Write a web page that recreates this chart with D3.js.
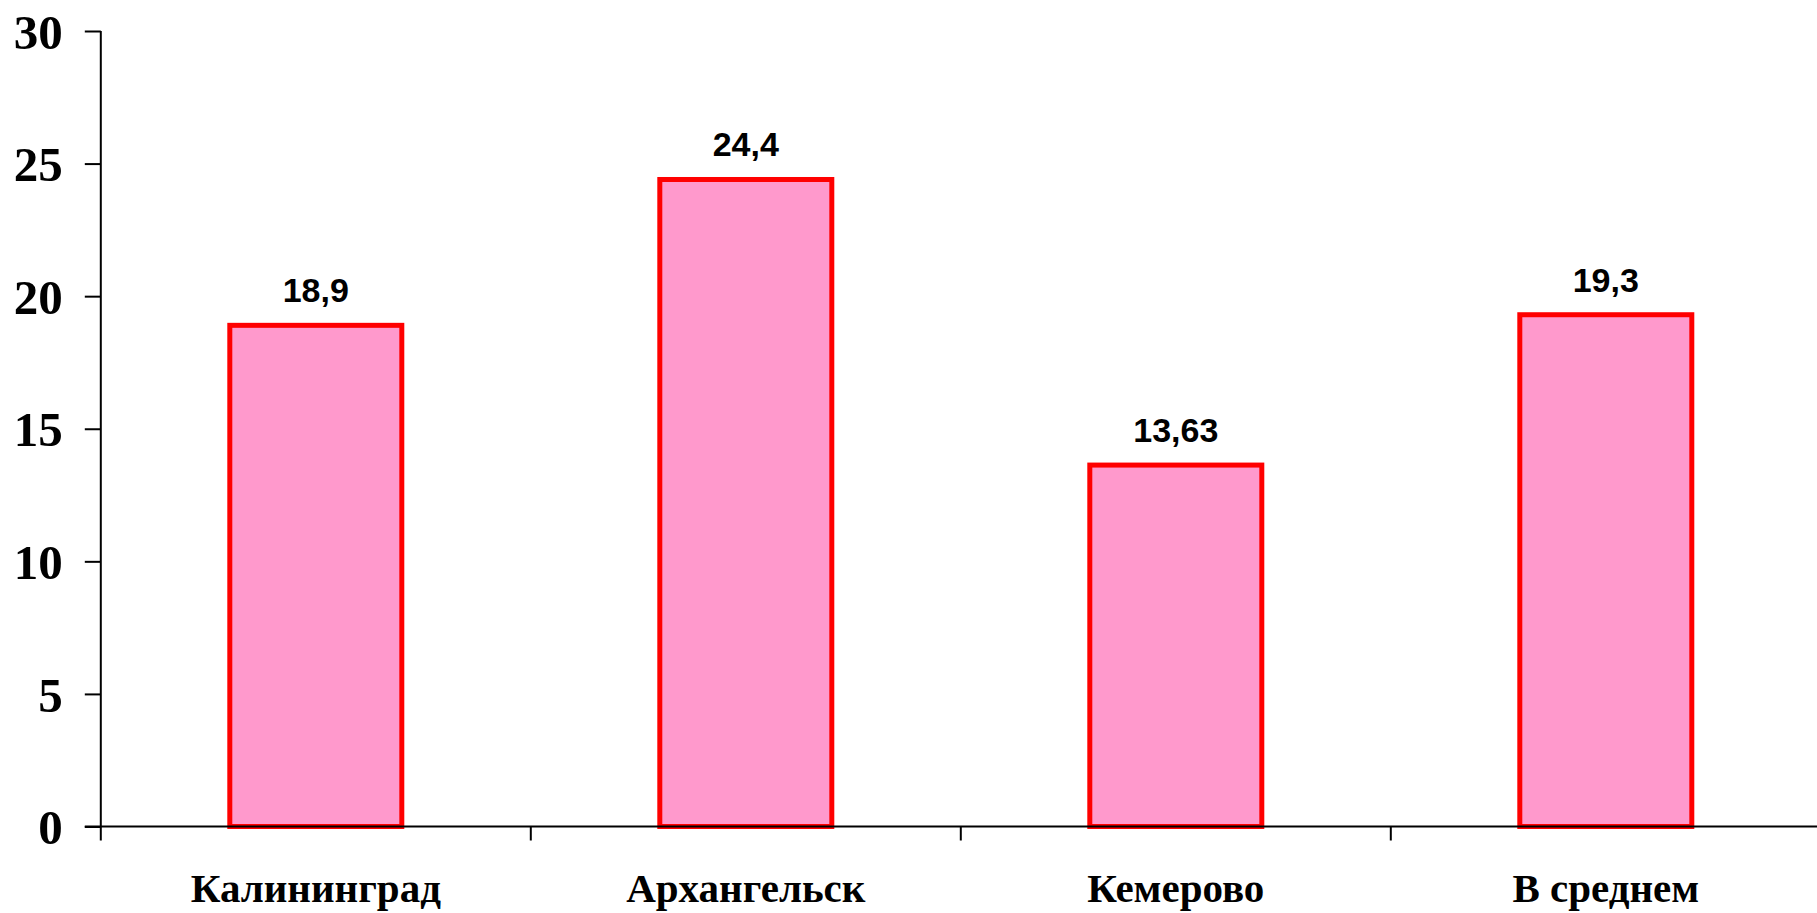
<!DOCTYPE html>
<html><head><meta charset="utf-8">
<script src="https://cdn.jsdelivr.net/npm/d3@7"></script>
<style>body{margin:0;background:#fff;}svg{display:block;}</style>
</head><body>
<script>
const categories = ["Калининград", "Архангельск", "Кемерово", "В среднем"];
const values = [18.9, 24.4, 13.63, 19.3];
const valueLabels = ["18,9", "24,4", "13,63", "19,3"];
const yTicks = [0, 5, 10, 15, 20, 25, 30];

const W = 1817, H = 913;
const mLeft = 100.8, mRight = 1820.8, mTop = 31, mBottom = 826.5;

const svg = d3.select("body").append("svg").attr("width", W).attr("height", H);

const x = d3.scaleBand().domain(categories).range([mLeft, mRight]).paddingInner(0.6).paddingOuter(0.3);
const y = d3.scaleLinear().domain([0, 30]).range([mBottom, mTop]);

// y axis
const yAxis = svg.append("g").attr("transform", `translate(${mLeft},0)`)
  .call(d3.axisLeft(y).tickValues(yTicks).tickSize(16).tickPadding(22).tickFormat(d3.format("d")));
yAxis.select(".domain").remove();
yAxis.selectAll(".tick line").attr("stroke", "#000").attr("stroke-width", 2);
yAxis.selectAll(".tick text").attr("font-family", "'Liberation Serif','Times New Roman',serif")
  .attr("font-weight", "bold").attr("font-size", 49).attr("fill", "#000").attr("dy", "0.35em");

// y axis line
svg.append("line").attr("x1", mLeft).attr("x2", mLeft).attr("y1", y(30)).attr("y2", mBottom + 14)
  .attr("stroke", "#000").attr("stroke-width", 2);

// bars
svg.selectAll("rect.bar").data(values).join("rect").attr("class", "bar")
  .attr("x", (d, i) => x(categories[i]))
  .attr("width", x.bandwidth())
  .attr("y", d => y(d))
  .attr("height", d => y(0) - y(d))
  .attr("fill", "#ff99cc").attr("stroke", "#ff0000").attr("stroke-width", 5);

// x axis line
svg.append("line").attr("x1", mLeft - 16).attr("x2", W).attr("y1", mBottom).attr("y2", mBottom)
  .attr("stroke", "#000").attr("stroke-width", 2);

// category boundary ticks
const gap = (x.step() - x.bandwidth()) / 2;
svg.selectAll("line.ctick").data(categories.slice(1)).join("line").attr("class", "ctick")
  .attr("x1", d => x(d) - gap).attr("x2", d => x(d) - gap)
  .attr("y1", mBottom).attr("y2", mBottom + 14).attr("stroke", "#000").attr("stroke-width", 2);

// category labels
svg.selectAll("text.cat").data(categories).join("text").attr("class", "cat")
  .attr("x", d => x(d) + x.bandwidth() / 2).attr("y", 902)
  .attr("text-anchor", "middle")
  .attr("font-family", "'Liberation Serif','Times New Roman',serif")
  .attr("font-weight", "bold").attr("font-size", 41).attr("fill", "#000")
  .text(d => d);

// value labels
svg.selectAll("text.val").data(values).join("text").attr("class", "val")
  .attr("x", (d, i) => x(categories[i]) + x.bandwidth() / 2).attr("y", d => y(d) - 23)
  .attr("text-anchor", "middle")
  .attr("font-family", "'Liberation Sans',Arial,sans-serif")
  .attr("font-weight", "bold").attr("font-size", 34).attr("fill", "#000")
  .text((d, i) => valueLabels[i]);
</script>
</body></html>
